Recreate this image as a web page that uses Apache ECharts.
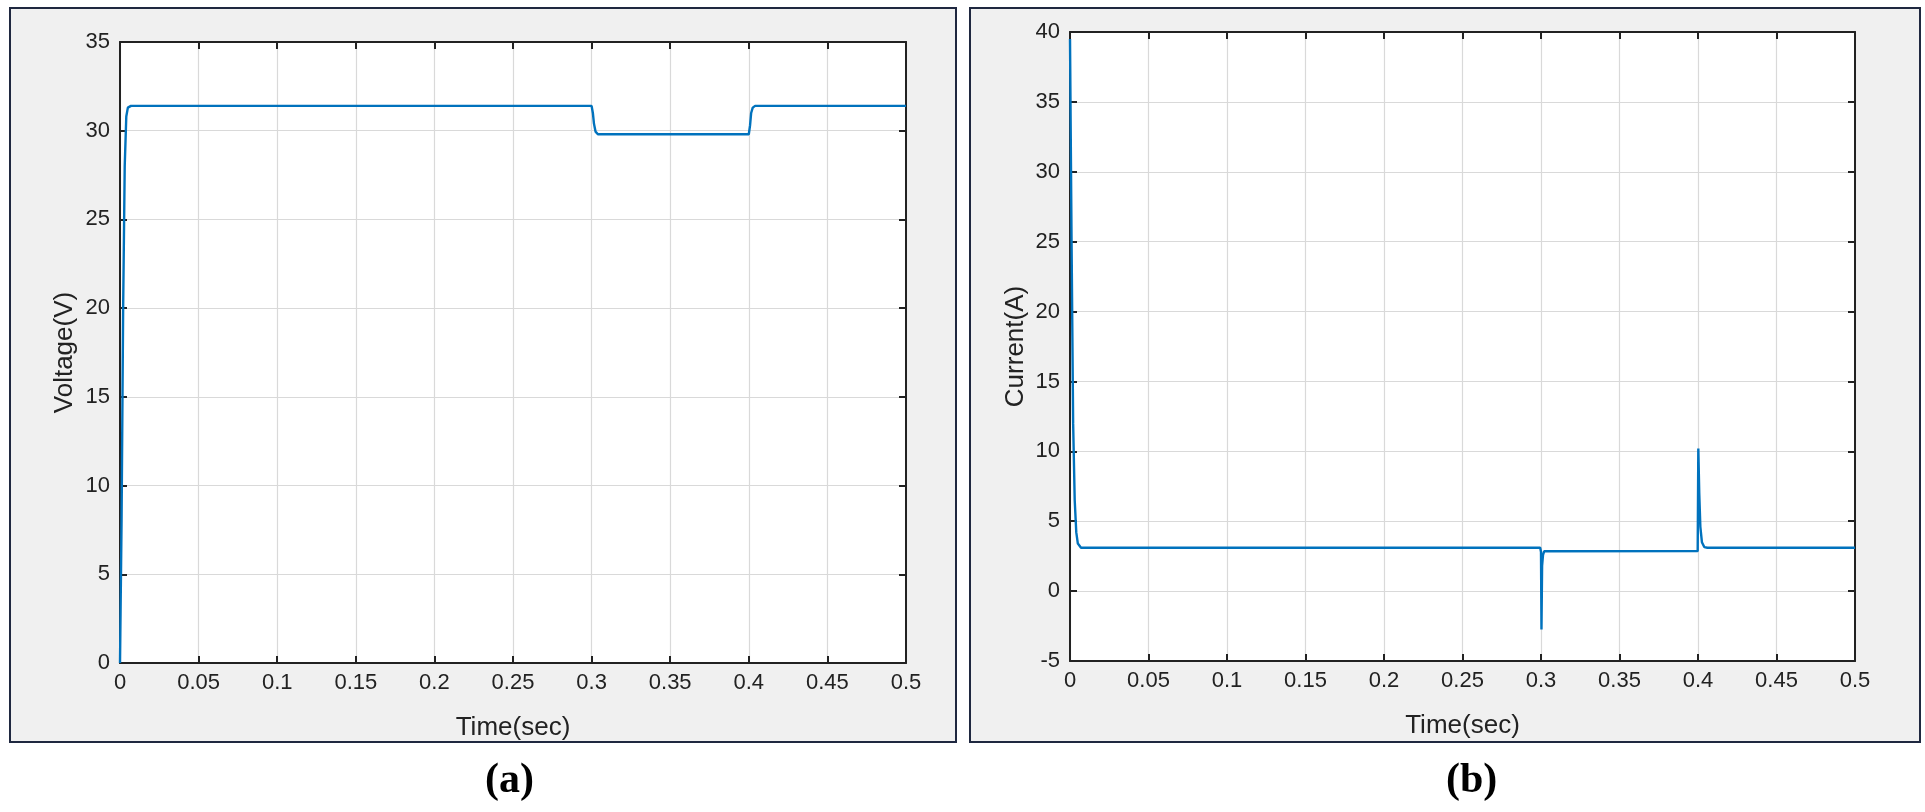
<!DOCTYPE html>
<html>
<head>
<meta charset="utf-8">
<script src="https://cdn.jsdelivr.net/npm/echarts@6/dist/echarts.min.js"></script>
<style>
  html, body { margin: 0; padding: 0; background: #ffffff; }
  #chart { width: 1925px; height: 812px; }
</style>
</head>
<body>
<div id="chart"></div>
<script>
// ---- Data ----
const timeTicks = [0, 0.05, 0.1, 0.15, 0.2, 0.25, 0.3, 0.35, 0.4, 0.45, 0.5];

// (a) Voltage (V) vs time (sec)
const voltageTime   = [0, 0.001, 0.002, 0.003, 0.004, 0.005, 0.007, 0.3, 0.3008, 0.3015, 0.3025, 0.304, 0.4, 0.4008, 0.4015, 0.4025, 0.404, 0.5];
const voltageValues = [0, 8, 20, 28, 30.8, 31.3, 31.4, 31.4, 31.0, 30.4, 29.95, 29.8, 29.8, 30.3, 31.0, 31.3, 31.4, 31.4];

// (b) Current (A) vs time (sec)
const currentTime   = [0, 0.001, 0.002, 0.003, 0.004, 0.005, 0.007, 0.2995, 0.3, 0.3003, 0.3007, 0.3013, 0.302, 0.303, 0.3998, 0.4002, 0.4008, 0.4015, 0.4025, 0.404, 0.406, 0.5];
const currentValues = [39.5, 25, 12, 6.5, 4.2, 3.4, 3.1, 3.1, 2.8, -2.75, 1.8, 2.6, 2.85, 2.86, 2.86, 10.2, 7.0, 4.6, 3.5, 3.15, 3.1, 3.1];

const voltageRange = { min: 0, max: 35, interval: 5 };
const currentRange = { min: -5, max: 40, interval: 5 };

// ---- Chart ----
const pairs = (xs, ys) => xs.map((x, i) => [x, ys[i]]);
const chart = echarts.init(document.getElementById('chart'), null, { renderer: 'canvas' });

const FONT = 'Liberation Sans, Arial, Helvetica, sans-serif';
const AX = '#222222';
const tickFont = { fontFamily: FONT, fontSize: 22, color: AX };

function xAxes(gridIndex) {
  return [
    {
      type: 'value', gridIndex, position: 'bottom',
      min: timeTicks[0], max: timeTicks[timeTicks.length - 1], interval: 0.05,
      name: 'Time(sec)', nameLocation: 'middle', nameGap: 52,
      nameTextStyle: { fontFamily: FONT, fontSize: 26, color: AX },
      axisLine: { show: true, onZero: false, lineStyle: { color: AX, width: 2 } },
      axisTick: { show: true, inside: true, length: 7, lineStyle: { color: AX, width: 2 } },
      axisLabel: Object.assign({ margin: 9 }, tickFont),
      splitLine: { show: true, lineStyle: { color: '#d9d9d9', width: 1.2 } }
    },
    {
      type: 'value', gridIndex, position: 'top',
      min: timeTicks[0], max: timeTicks[timeTicks.length - 1], interval: 0.05,
      axisLine: { show: true, onZero: false, lineStyle: { color: AX, width: 2 } },
      axisTick: { show: true, inside: true, length: 7, lineStyle: { color: AX, width: 2 } },
      axisLabel: { show: false },
      splitLine: { show: false }
    }
  ];
}

function yAxes(gridIndex, range, name, gap) {
  return [
    {
      type: 'value', gridIndex, position: 'left',
      min: range.min, max: range.max, interval: range.interval,
      name, nameLocation: 'middle', nameGap: gap,
      nameTextStyle: { fontFamily: FONT, fontSize: 26, color: AX },
      axisLine: { show: true, onZero: false, lineStyle: { color: AX, width: 2 } },
      axisTick: { show: true, inside: true, length: 7, lineStyle: { color: AX, width: 2 } },
      axisLabel: Object.assign({ margin: 10 }, tickFont),
      splitLine: { show: true, lineStyle: { color: '#d9d9d9', width: 1.2 } }
    },
    {
      type: 'value', gridIndex, position: 'right',
      min: range.min, max: range.max, interval: range.interval,
      axisLine: { show: true, onZero: false, lineStyle: { color: AX, width: 2 } },
      axisTick: { show: true, inside: true, length: 7, lineStyle: { color: AX, width: 2 } },
      axisLabel: { show: false },
      splitLine: { show: false }
    }
  ];
}

const option = {
  backgroundColor: '#ffffff',
  animation: false,
  graphic: [
    { type: 'rect', z: -10, shape: { x: 10, y: 8, width: 946, height: 734 },
      style: { fill: '#f0f0f0', stroke: '#1f2840', lineWidth: 2 } },
    { type: 'rect', z: -10, shape: { x: 970, y: 8, width: 950, height: 734 },
      style: { fill: '#f0f0f0', stroke: '#1f2840', lineWidth: 2 } },
    { type: 'text', left: 485, top: 760,
      style: { text: '(a)', font: 'bold 42px "Liberation Serif", "Times New Roman", serif', fill: '#000' } },
    { type: 'text', left: 1446, top: 760,
      style: { text: '(b)', font: 'bold 42px "Liberation Serif", "Times New Roman", serif', fill: '#000' } }
  ],
  grid: [
    { left: 120, top: 42, width: 786, height: 621, show: true, backgroundColor: '#ffffff', borderWidth: 0 },
    { left: 1070, top: 32, width: 785, height: 629, show: true, backgroundColor: '#ffffff', borderWidth: 0 }
  ],
  xAxis: [...xAxes(0), ...xAxes(1)],
  yAxis: [...yAxes(0, voltageRange, 'Voltage(V)', 42), ...yAxes(1, currentRange, 'Current(A)', 41)],
  series: [
    {
      type: 'line', xAxisIndex: 0, yAxisIndex: 0,
      data: pairs(voltageTime, voltageValues),
      showSymbol: false, smooth: false,
      lineStyle: { color: '#0072BD', width: 2.4 }
    },
    {
      type: 'line', xAxisIndex: 2, yAxisIndex: 2,
      data: pairs(currentTime, currentValues),
      showSymbol: false, smooth: false,
      lineStyle: { color: '#0072BD', width: 2.4 }
    }
  ]
};
chart.setOption(option);
</script>
</body>
</html>
